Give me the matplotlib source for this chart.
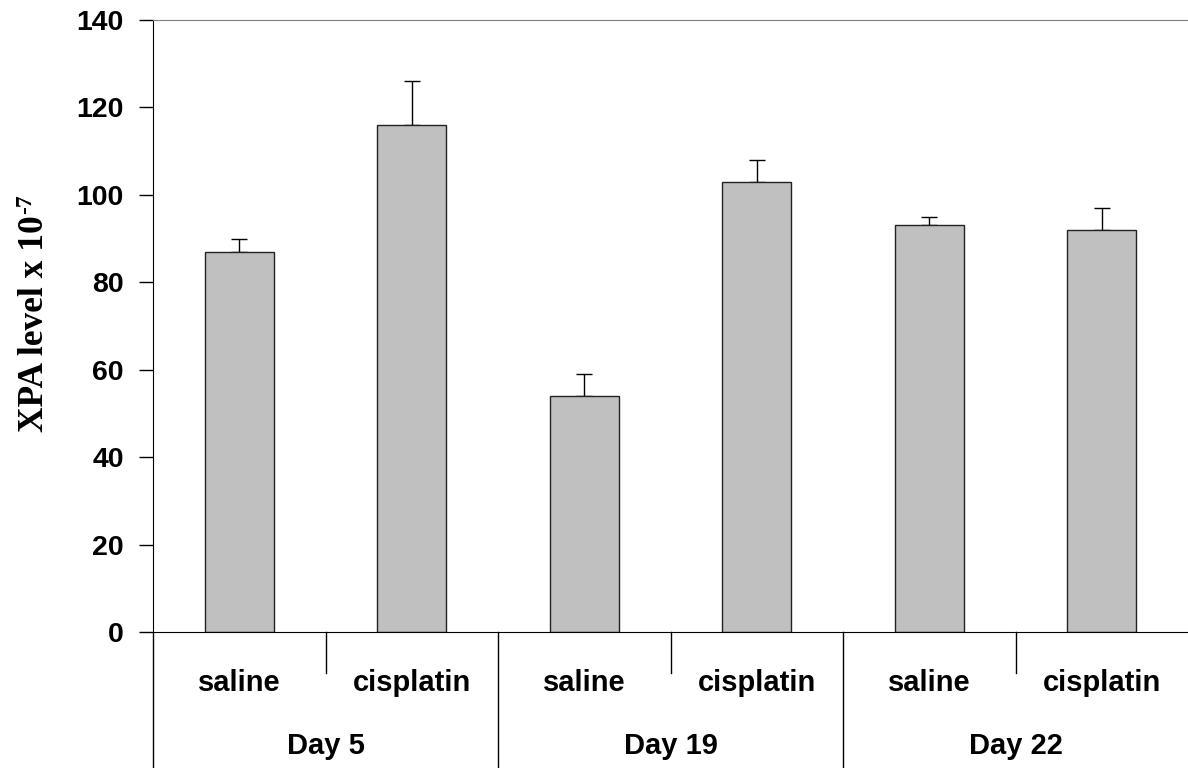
import matplotlib
matplotlib.use("Agg")
import matplotlib.pyplot as plt
import matplotlib.transforms as mtransforms

# XPA level per group (mean and upper error bar)
groups = ["saline", "cisplatin", "saline", "cisplatin", "saline", "cisplatin"]
days = ["Day 5", "Day 19", "Day 22"]
means = [87, 116, 54, 103, 93, 92]
errs = [3, 10, 5, 5, 2, 5]

W, H = 1188, 768
fig = plt.figure(figsize=(W / 100, H / 100), dpi=100)
ax = fig.add_axes([153 / W, 1 - 632 / H, 1 - 153 / W, 612 / H])

x = list(range(len(means)))
ax.bar(x, means, width=0.4, color="#c0c0c0", edgecolor="#222222", linewidth=1.0, zorder=2)
ax.errorbar(x, means, yerr=[[0] * len(errs), errs], fmt="none", ecolor="black",
            elinewidth=1.0, capsize=6, capthick=1.0, zorder=1)

ax.set_xlim(-0.5, len(means) - 0.5)
ax.set_ylim(0, 140)
ax.set_yticks(range(0, 141, 20))
ax.tick_params(axis="y", direction="out", length=10, width=1, pad=11)
ax.set_xticks([])
for lab in ax.get_yticklabels():
    lab.set_fontfamily("Liberation Sans")
    lab.set_fontweight("bold")
    lab.set_fontsize(20.5)

ax.spines["right"].set_visible(False)
ax.spines["top"].set_color("#808080")
ax.spines["left"].set_color("black")
ax.spines["bottom"].set_color("black")

# y label: main text plus a separate superscript exponent
ylab = fig.text(43 / W, 1 - 432 / H, "XPA level x 10", rotation=90, rotation_mode="anchor",
                ha="left", va="baseline", fontfamily="Liberation Serif",
                fontweight="bold", fontsize=25.5)
fig.canvas.draw()
bb = ylab.get_window_extent()
fig.text(31 / W, (bb.y1 + 1) / H, "-7", rotation=90, rotation_mode="anchor",
         ha="left", va="baseline", fontfamily="Liberation Serif",
         fontweight="bold", fontsize=17)

# two-level category axis below the plot
trans = mtransforms.blended_transform_factory(ax.transData, ax.transAxes)
y_sub = -41 / 612
y_bot = -136 / 612
ax.plot([-0.5, -0.5], [0, y_bot], transform=trans, color="black", lw=1, clip_on=False)
for i in range(1, len(groups)):
    xe = i - 0.5
    y_end = y_bot if i % 2 == 0 else y_sub
    ax.plot([xe, xe], [0, y_end], transform=trans, color="black", lw=1, clip_on=False)

for i, g in enumerate(groups):
    ax.text(i, -59 / 612, g, transform=trans, ha="center", va="baseline",
            fontfamily="Liberation Sans", fontweight="bold", fontsize=21)
for j, d in enumerate(days):
    ax.text(2 * j + 0.5, -122 / 612, d, transform=trans, ha="center", va="baseline",
            fontfamily="Liberation Sans", fontweight="bold", fontsize=21)

fig.savefig("out.png", dpi=100)
